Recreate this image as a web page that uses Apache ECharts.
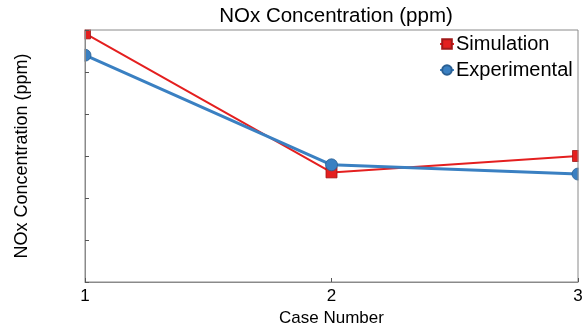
<!DOCTYPE html>
<html><head><meta charset="utf-8">
<script src="https://cdn.jsdelivr.net/npm/echarts@6/dist/echarts.min.js"></script>
<style>html,body{margin:0;padding:0;background:#fff}#c{width:582px;height:332px}</style>
</head><body><div id="c"></div>
<script>
const cases = [1, 2, 3];
const simulation = [5.92, 2.61, 3.0];
const experimental = [5.40, 2.79, 2.57];
const xTicks = ['1', '2', '3'];

const font = 'Liberation Sans, Arial, sans-serif';
const chart = echarts.init(document.getElementById('c'));
const W = 582, H = 332, gl = 85, gr = 4, gt = 30, gb = 50;
chart.setOption({
  animation: false,
  backgroundColor: '#fff',
  title: {
    text: 'NOx Concentration (ppm)', left: 331, top: 1, textAlign: 'center', z: 30,
    textStyle: {fontFamily: font, fontSize: 20.5, fontWeight: 'normal', color: '#000'}
  },
  legend: {
    orient: 'vertical', left: 439, top: 34, padding: 0, itemWidth: 14, itemHeight: 12, itemGap: 6, z: 30,
    textStyle: {fontFamily: font, fontSize: 20, lineHeight: 20, color: '#000', padding: [0, 0, 0, -3]},
    data: ['Simulation', 'Experimental']
  },
  graphic: {elements: [
    {type: 'rect', z: 10, silent: true, shape: {x: 0, y: 0, width: gl - 0.5, height: H}, style: {fill: '#fff'}},
    {type: 'rect', z: 10, silent: true, shape: {x: 0, y: 0, width: W, height: gt - 0.5}, style: {fill: '#fff'}},
    {type: 'rect', z: 10, silent: true, shape: {x: W - gr + 0.5, y: 0, width: gr, height: H}, style: {fill: '#fff'}}
  ]},
  grid: {left: gl, right: gr, top: gt, bottom: gb, outerBoundsMode: 'none', containLabel: false,
    show: true, borderColor: '#8a8a8a', borderWidth: 1, z: 20},
  xAxis: {
    type: 'value', min: 1, max: 3, interval: 1, z: 20,
    name: 'Case Number', nameLocation: 'middle', nameGap: 28,
    nameTextStyle: {fontFamily: font, fontSize: 17, color: '#000'},
    axisLine: {lineStyle: {color: '#8a8a8a'}},
    axisTick: {inside: true, length: 4, lineStyle: {color: '#555'}},
    axisLabel: {fontFamily: font, fontSize: 17, color: '#000', margin: 6,
      formatter: v => xTicks[cases.indexOf(v)] ?? ''},
    splitLine: {show: false}
  },
  yAxis: {
    type: 'value', min: 0, max: 6, interval: 1, z: 20,
    name: 'NOx Concentration (ppm)', nameLocation: 'middle', nameGap: 54, nameRotate: 90,
    nameTextStyle: {fontFamily: font, fontSize: 18, color: '#000'},
    axisLine: {show: true, lineStyle: {color: '#8a8a8a'}},
    axisTick: {show: true, inside: true, length: 4, lineStyle: {color: '#555'}},
    axisLabel: {show: false},
    splitLine: {show: false}
  },
  series: [
    {
      name: 'Simulation', type: 'line', data: cases.map((c, i) => [c, simulation[i]]),
      symbol: 'rect', symbolSize: 11, z: 2, clip: false,
      lineStyle: {color: '#e41f1f', width: 2},
      itemStyle: {color: '#e41f1f', borderColor: '#a01818', borderWidth: 0.8}
    },
    {
      name: 'Experimental', type: 'line', data: cases.map((c, i) => [c, experimental[i]]),
      symbol: 'circle', symbolSize: 12, z: 3, clip: false,
      lineStyle: {color: '#3a80c2', width: 3},
      itemStyle: {color: '#3a80c2', borderColor: '#2a5f92', borderWidth: 0.8}
    }
  ]
});
</script></body></html>
